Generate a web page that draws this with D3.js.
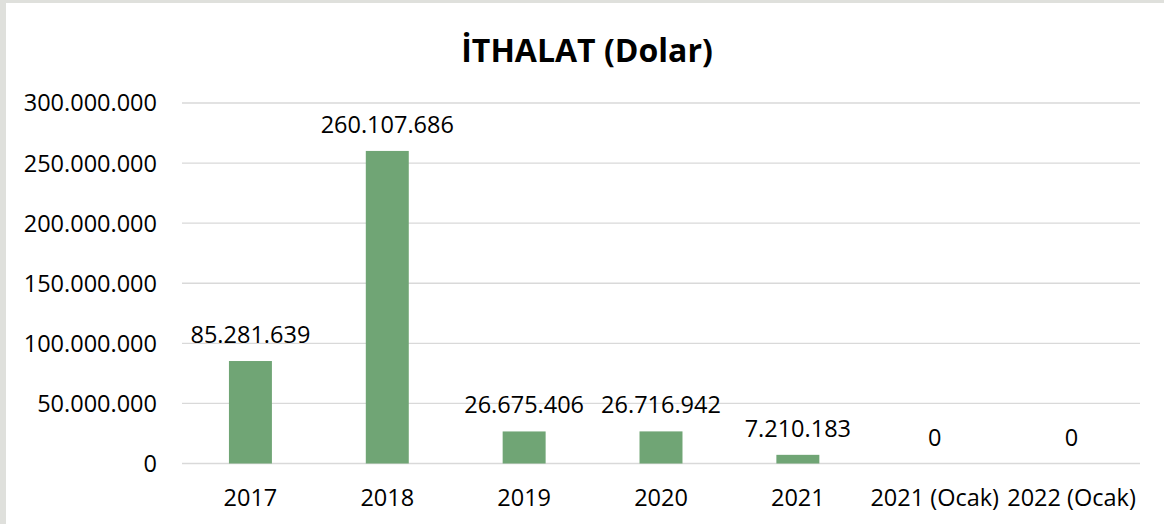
<html lang="tr">
<head>
<meta charset="utf-8">
<title>İTHALAT (Dolar)</title>
<style>
  body { margin: 0; background: #ffffff; }
  svg text { font-family: "Open Sans", sans-serif; fill: #000; }
  .title { font-weight: bold; }
</style>
</head>
<body>
<svg id="chart"></svg>
<script src="https://d3js.org/d3.v7.min.js"></script>
<script>
  // chart data
  var categories = ["2017", "2018", "2019", "2020", "2021", "2021 (Ocak)", "2022 (Ocak)"];
  var values = [85281639, 260107686, 26675406, 26716942, 7210183, 0, 0];
  var yTicks = [0, 50000000, 100000000, 150000000, 200000000, 250000000, 300000000];
  var titleText = "İTHALAT (Dolar)";

  var width = 1164, height = 524;
  var svg = d3.select("#chart").attr("width", width).attr("height", height);

  // light gray frame on the left and top
  svg.append("rect").attr("x", 0).attr("y", 0).attr("width", width).attr("height", 3).attr("fill", "#dfe0dc");
  svg.append("rect").attr("x", 0).attr("y", 0).attr("width", 6).attr("height", height).attr("fill", "#dfe0dc");

  // plot area (note: "top" is reserved on window, so use other names)
  var plotLeft = 182, plotRight = 1140, plotTop = 103, plotBottom = 463.5;

  var x = d3.scaleBand().domain(categories).range([plotLeft, plotRight]).paddingInner(0.686).paddingOuter(0.343);
  var y = d3.scaleLinear().domain([0, 300000000]).range([plotBottom, plotTop]);

  // dot thousands separator
  var fmt = function(v) { return d3.format(",")(v).replace(/,/g, "."); };

  // gridlines
  svg.append("g").selectAll("line")
    .data(yTicks).enter().append("line")
    .attr("x1", plotLeft).attr("x2", plotRight)
    .attr("y1", d => y(d)).attr("y2", d => y(d))
    .attr("stroke", "#d9d9d9").attr("stroke-width", 1.3);

  // y labels
  svg.append("g").selectAll("text")
    .data(yTicks).enter().append("text")
    .attr("x", 157).attr("y", d => y(d))
    .attr("dy", "0.36em")
    .attr("text-anchor", "end")
    .style("font-size", "23.5px")
    .text(d => fmt(d));

  // bars
  svg.append("g").selectAll("rect")
    .data(values).enter().append("rect")
    .attr("x", (d, i) => x(categories[i]))
    .attr("width", x.bandwidth())
    .attr("y", d => y(d))
    .attr("height", d => plotBottom - y(d))
    .attr("fill", "#70a575");

  // value labels
  svg.append("g").selectAll("text")
    .data(values).enter().append("text")
    .attr("x", (d, i) => x(categories[i]) + x.bandwidth() / 2)
    .attr("y", d => y(d) - 18)
    .attr("text-anchor", "middle")
    .style("font-size", "23.5px")
    .text(d => fmt(d));

  // category labels
  svg.append("g").selectAll("text")
    .data(categories).enter().append("text")
    .attr("x", d => x(d) + x.bandwidth() / 2)
    .attr("y", 506)
    .attr("text-anchor", "middle")
    .style("font-size", "23.5px")
    .text(d => d);

  // title
  svg.append("text")
    .attr("class", "title")
    .attr("x", 587).attr("y", 62)
    .attr("text-anchor", "middle")
    .style("font-size", "32px")
    .text(titleText);
</script>
</body>
</html>
